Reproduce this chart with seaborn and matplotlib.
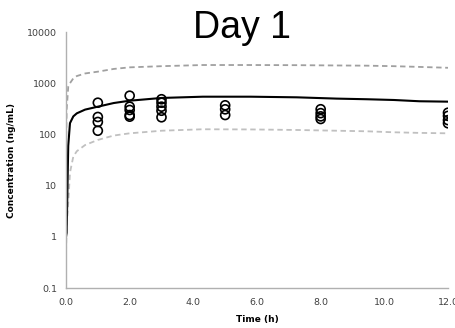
import numpy as np
import pandas as pd
import matplotlib
matplotlib.use("Agg")
import matplotlib.pyplot as plt
import seaborn as sns

# observed concentrations
obs_time = [1, 1, 1, 1, 2, 2, 2, 2, 2, 3, 3, 3, 3, 3, 5, 5, 5, 8, 8, 8, 8, 12, 12, 12, 12]
obs_conc = [416, 219, 175, 118, 570, 348, 300, 239, 222, 486, 416, 348, 290, 216,
            370, 309, 239, 310, 260, 225, 200, 265, 230, 190, 165]

# model prediction (median and 90% interval)
pred_time = [0.0, 0.02, 0.07, 0.125, 0.23, 0.34, 0.6, 1.0, 1.5, 2.0, 3.0, 4.3, 5.8, 7.25, 8.5, 9.45, 10.3, 11.1, 12.0]
pred_med = [1.0, 1.2, 60, 166, 225, 258, 305, 348, 410, 455, 515, 545, 545, 530, 500, 486, 470, 444, 436]
pred_hi = [40, 300, 854, 1000, 1245, 1380, 1550, 1680, 1900, 2040, 2150, 2265, 2265, 2250, 2220, 2200, 2150, 2080, 2000]
pred_lo = [0.5, 1.5, 4.6, 18, 37, 47, 62, 78, 95, 105, 118, 126, 125, 122, 118, 115, 110, 107, 105]

sns.set_style("white")
plt.rcParams['font.family'] = ['DejaVu Sans']

fig = plt.figure(figsize=(4.56, 3.28), dpi=100)
ax = fig.add_axes([66/456, 1 - 288/328, (448 - 66)/456, (288 - 32)/328])

pred = pd.DataFrame({"t": pred_time, "med": pred_med, "hi": pred_hi, "lo": pred_lo})
sns.lineplot(data=pred, x="t", y="hi", ax=ax, color="#a0a0a0", lw=1.3, linestyle=(0, (3, 2)))
sns.lineplot(data=pred, x="t", y="lo", ax=ax, color="#c0c0c0", lw=1.3, linestyle=(0, (3, 2)))
sns.lineplot(data=pred, x="t", y="med", ax=ax, color="black", lw=1.5)

obs = pd.DataFrame({"t": obs_time, "c": obs_conc})
sns.scatterplot(data=obs, x="t", y="c", ax=ax, facecolor="none", edgecolor="black",
                linewidth=1.2, s=42, zorder=5)

ax.set_yscale("log")
ax.set_ylim(0.1, 10000)
ax.set_xlim(0, 12)
ax.set_yticks([0.1, 1, 10, 100, 1000, 10000])
ax.set_yticklabels(["0.1", "1", "10", "100", "1000", "10000"])
ax.minorticks_off()
ax.set_xticks(np.arange(0, 13, 2))
ax.set_xticklabels([f"{v:.1f}" for v in np.arange(0, 13, 2)])

for s in ["top", "right"]:
    ax.spines[s].set_visible(False)
for s in ["left", "bottom"]:
    ax.spines[s].set_color("#b0b0b0")
    ax.spines[s].set_linewidth(1)
ax.tick_params(axis="both", labelsize=6.8, colors="#404040", length=4, width=0.8)
ax.tick_params(axis="x", direction="inout", color="#b0b0b0", pad=5)
ax.tick_params(axis="y", direction="out", color="#b0b0b0", length=3)

ax.set_xlabel("Time (h)", fontsize=6.5, fontweight="bold", labelpad=6, color="black")
ax.set_ylabel("Concentration (ng/mL)", fontsize=6.5, fontweight="bold", labelpad=8, color="black")

fig.text(0.53, 0.884, "Day 1", fontsize=27, family="Liberation Sans", ha="center",
         va="baseline", color="black")

fig.savefig("out.png", dpi=100)
